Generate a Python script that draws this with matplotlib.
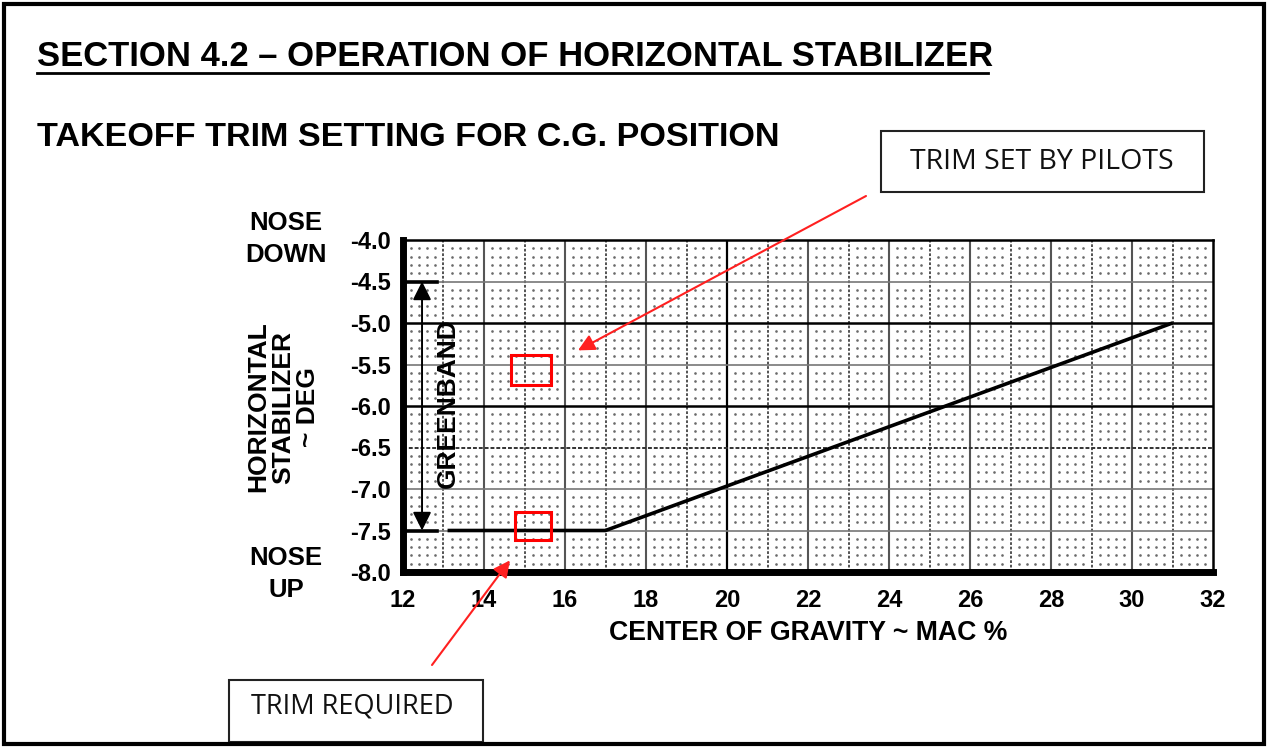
import numpy as np
import matplotlib
matplotlib.use("Agg")
import matplotlib.pyplot as plt
from matplotlib.patches import Rectangle

plt.rcParams['font.family'] = ['Liberation Sans', 'DejaVu Sans']
plt.rcParams['axes.unicode_minus'] = False

# data
cg_pct = [13.1, 17.0, 31.0]
trim_deg = [-7.5, -7.5, -5.0]
x_ticks = [12, 14, 16, 18, 20, 22, 24, 26, 28, 30, 32]
y_ticks = [-4.0, -4.5, -5.0, -5.5, -6.0, -6.5, -7.0, -7.5, -8.0]
greenband = (-4.5, -7.5)
pilot_box = (14.67, -5.75, 0.98, 0.36)   # x, y, w, h
required_box = (14.77, -7.61, 0.88, 0.33)

W, H = 1268, 747
fig = plt.figure(figsize=(W / 100, H / 100), dpi=100)
ax = fig.add_axes([403 / W, 1 - 572 / H, 810 / W, 332 / H])
ax.set_xlim(12, 32)
ax.set_ylim(-8, -4)

# grid: every 1 % in x, every 0.5 deg in y
for xv in np.arange(13, 32):
    if xv == 20:
        ax.axvline(xv, color='black', lw=1.6, zorder=1)
    elif xv % 2 == 0:
        ax.axvline(xv, color='#555555', lw=1.5, zorder=1)
    else:
        ax.axvline(xv, color='#444444', lw=1.3, ls=(0, (1.5, 1)), zorder=1)
for yv in np.arange(-7.5, -4.0, 0.5):
    if yv in (-5.0, -6.0):
        ax.axhline(yv, color='black', lw=1.8, zorder=1)
    elif yv == -6.5:
        ax.axhline(yv, color='#333333', lw=1.4, ls=(0, (2, 1)), zorder=1)
    else:
        ax.axhline(yv, color='#777777', lw=1.2, zorder=1)

# dotted texture inside each cell
gx = (np.arange(12, 32)[:, None] + np.array([0.2, 0.4, 0.6, 0.8])).ravel()
gy = (np.arange(-8, -4, 0.5)[:, None] + np.array([0.1, 0.2, 0.3, 0.4])).ravel()
mx, my = np.meshgrid(gx, gy)
ax.scatter(mx.ravel(), my.ravel(), s=3.6, color='#6a6a6a', lw=0, zorder=1)

# trim line
ax.plot(cg_pct, trim_deg, color='black', lw=2.6, zorder=3, solid_capstyle='butt')

# greenband bracket
for gv in greenband:
    ax.plot([12, 12.85], [gv, gv], color='black', lw=2.6, zorder=3, clip_on=False)
ax.annotate('', xy=(12.47, greenband[0]), xytext=(12.47, greenband[1]),
            arrowprops=dict(arrowstyle='<|-|>', color='black', lw=1.4,
                            mutation_scale=28, shrinkA=0, shrinkB=0), zorder=4)
ax.text(13.12, -5.96, 'GREENBAND', rotation=90, ha='center', va='center',
        fontsize=19, fontweight='bold', zorder=4)

# red highlight boxes
for bx, by, bw, bh in (pilot_box, required_box):
    ax.add_patch(Rectangle((bx, by), bw, bh, fill=False, edgecolor='#ff0000', lw=2.2, zorder=5))

# spines
for side in ('left', 'bottom'):
    ax.spines[side].set_linewidth(5)
for side in ('top', 'right'):
    ax.spines[side].set_linewidth(1.8)

ax.set_xticks(x_ticks)
ax.set_xticklabels([str(v) for v in x_ticks], fontsize=17, fontweight='bold')
ax.set_yticks(y_ticks)
ax.set_yticklabels([f'{v:.1f}' for v in y_ticks], fontsize=17, fontweight='bold')
ax.tick_params(length=0, pad=9)
ax.tick_params(axis='x', pad=12)

ax.set_xlabel('CENTER OF GRAVITY ~ MAC %', fontsize=19.2, fontweight='bold', labelpad=6)

# y label and nose labels (figure pixels)
def fx(px):
    return px / W

def fy(py):
    return 1 - py / H

fig.text(fx(283), fy(407), 'HORIZONTAL\nSTABILIZER\n~ DEG', rotation=90, ha='center', va='center',
         fontsize=19, fontweight='bold', linespacing=1.05)
fig.text(fx(286), fy(239), 'NOSE\nDOWN', ha='center', va='center', fontsize=18.5,
         fontweight='bold', linespacing=1.45)
fig.text(fx(286), fy(574), 'NOSE\nUP', ha='center', va='center', fontsize=18.5,
         fontweight='bold', linespacing=1.45)

# headings
fig.text(fx(37), fy(57), 'SECTION 4.2 \u2013 OPERATION OF HORIZONTAL STABILIZER',
         ha='left', va='center', fontsize=24.9, fontweight='bold')
fig.add_artist(plt.Line2D([fx(37), fx(988)], [fy(73), fy(73)], color='black', lw=2))
fig.text(fx(37), fy(137), 'TAKEOFF TRIM SETTING FOR C.G. POSITION',
         ha='left', va='center', fontsize=24.6, fontweight='bold')

# callout boxes
fig.add_artist(Rectangle((fx(881), fy(192)), (1204 - 881) / W, 61 / H, transform=fig.transFigure,
                         fill=False, edgecolor='#222222', lw=1.5))
fig.text(fx(1042), fy(162), 'TRIM SET BY PILOTS', ha='center', va='center',
         fontsize=20.5, family=['Open Sans', 'DejaVu Sans'], color='#111111')
fig.add_artist(Rectangle((fx(229), fy(742)), (483 - 229) / W, 62 / H, transform=fig.transFigure,
                         fill=False, edgecolor='#222222', lw=1.5))
fig.text(fx(352), fy(707), 'TRIM REQUIRED', ha='center', va='center',
         fontsize=19.5, family=['Open Sans', 'DejaVu Sans'], color='#111111')

# red arrows
ax.annotate('', xy=(16.32, -5.33), xytext=(fx(866), fy(196)), textcoords='figure fraction',
            arrowprops=dict(arrowstyle='-|>', color='#ff2020', lw=1.5, mutation_scale=25,
                            shrinkA=0, shrinkB=0), annotation_clip=False, zorder=6)
ax.annotate('', xy=(14.64, -7.86), xytext=(fx(432), fy(665)), textcoords='figure fraction',
            arrowprops=dict(arrowstyle='-|>', color='#ff2020', lw=1.5, mutation_scale=25,
                            shrinkA=0, shrinkB=0), annotation_clip=False, zorder=6)

# outer frame
fig.add_artist(Rectangle((fx(4), fy(744)), (1264 - 4) / W, 740 / H, transform=fig.transFigure,
                         fill=False, edgecolor='black', lw=3))

fig.savefig('out.png', dpi=100)
